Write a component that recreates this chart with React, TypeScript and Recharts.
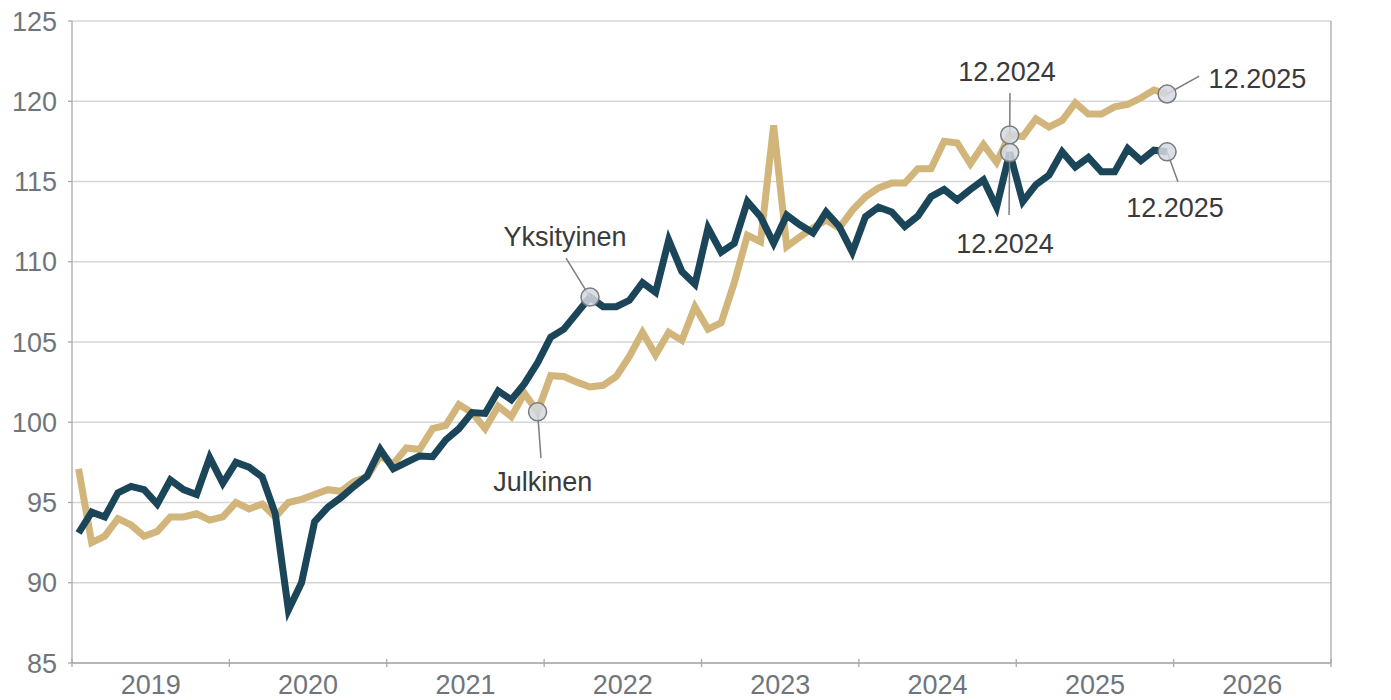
import React from 'react';
import {
  LineChart,
  Line,
  XAxis,
  YAxis,
  CartesianGrid,
  ReferenceDot,
  ReferenceLine,
} from 'recharts';

// monthly index values, 1.2019 - 12.2025
const yksityinen = [
  93.1, 94.4, 94.1, 95.6, 96.0, 95.8, 94.9, 96.4, 95.8, 95.5, 97.8, 96.2,
  97.5, 97.2, 96.6, 94.3, 88.3, 90.0, 93.8, 94.7, 95.3, 96.0, 96.65, 98.3,
  97.1, 97.5, 97.9, 97.85, 98.9, 99.6, 100.6, 100.55, 101.95, 101.4, 102.4, 103.7,
  105.3, 105.8, 106.8, 107.8, 107.2, 107.2, 107.6, 108.7, 108.1, 111.35, 109.4, 108.6,
  112.1, 110.6, 111.15, 113.75, 112.8, 111.15, 112.9, 112.3, 111.8, 113.1, 112.2, 110.6,
  112.8, 113.4, 113.1, 112.2, 112.85, 114.05, 114.5, 113.85, 114.5, 115.1, 113.4, 116.8,
  113.75, 114.8, 115.4, 116.85, 115.9, 116.5, 115.6, 115.6, 117.05, 116.3, 116.95, 116.85,
];

const julkinen = [
  97.1, 92.5, 92.9, 94.0, 93.6, 92.9, 93.2, 94.1, 94.1, 94.3, 93.9, 94.1,
  95.0, 94.6, 94.9, 94.1, 95.0, 95.2, 95.5, 95.8, 95.7, 96.3, 96.6, 97.9,
  97.4, 98.4, 98.3, 99.6, 99.8, 101.1, 100.6, 99.6, 101.0, 100.35, 101.8, 100.65,
  102.9, 102.85, 102.5, 102.2, 102.3, 102.85, 104.1, 105.6, 104.2, 105.6, 105.1, 107.2,
  105.8, 106.2, 108.7, 111.65, 111.25, 118.5, 110.95, 111.55, 112.1, 112.6, 112.1, 113.2,
  114.05, 114.6, 114.9, 114.9, 115.8, 115.8, 117.5, 117.4, 116.1, 117.3, 116.2, 117.9,
  117.8, 118.9, 118.4, 118.8, 119.9, 119.2, 119.2, 119.65, 119.8, 120.2, 120.7, 120.45,
];

const years = ['2019', '2020', '2021', '2022', '2023', '2024', '2025', '2026'];
const yTicks = [85, 90, 95, 100, 105, 110, 115, 120, 125];

// x is months since 1.2019, each point sits in the middle of its month
const data = yksityinen.map((v, i) => ({ t: i + 0.5, yks: v, julk: julkinen[i] }));
const yearStarts = [...years.map((_, i) => i * 12), years.length * 12];

// callouts: marker point, end of leader line, text centre (data units)
const callouts = [
  { text: 'Yksityinen', at: [39.5, yksityinen[39]], end: [37.67, 110.23], label: [37.6, 111.6] },
  { text: 'Julkinen', at: [35.5, julkinen[35]], end: [35.76, 97.77], label: [35.9, 96.34] },
  { text: '12.2024', at: [71.5, julkinen[71]], end: [71.52, 120.51], label: [71.29, 121.88] },
  { text: '12.2024', at: [71.5, yksityinen[71]], end: [71.45, 112.91], label: [71.14, 111.14] },
  { text: '12.2025', at: [83.5, julkinen[83]], end: [85.95, 121.57], label: [90.39, 121.45] },
  { text: '12.2025', at: [83.5, yksityinen[83]], end: [84.33, 114.99], label: [84.1, 113.38] },
];

const W = 1391;
const H = 700;
const LEFT_W = 72;
const RIGHT_W = 60;
const HALF_YEAR = (W - LEFT_W - RIGHT_W) / years.length / 2;

const FONT = '"Liberation Sans", Arial, sans-serif';
const TICK_COLOR = '#6f757c';
const AXIS_COLOR = '#a9a9a9';

// tick mark crossing the axis at each year boundary, year label centred in the year
const YearTick = (props: any) => {
  const { x, y, index } = props;
  return (
    <g>
      <line x1={x} x2={x} y1={y - 4} y2={y + 4} stroke={AXIS_COLOR} strokeWidth={1.3} />
      {index < years.length && (
        <text
          x={x + HALF_YEAR}
          y={y + 31}
          textAnchor="middle"
          fill={TICK_COLOR}
          fontSize={27}
          fontFamily={FONT}
        >
          {years[index]}
        </text>
      )}
    </g>
  );
};

export default function App() {
  const tickStyle = { fill: TICK_COLOR, fontSize: 27, fontFamily: FONT };
  return (
    <div style={{ position: 'absolute', left: 0, top: 0, background: '#fff' }}>
      <LineChart width={W} height={H} data={data} margin={{ top: 21, right: 0, bottom: 0, left: 0 }}>
        <CartesianGrid xAxisId="m" yAxisId="l" vertical={false} stroke="#d6d6d6" strokeWidth={1.3} />
        <XAxis
          xAxisId="m"
          dataKey="t"
          type="number"
          domain={[0, 96]}
          ticks={yearStarts}
          allowDataOverflow
          height={37}
          tickSize={0}
          tickMargin={0}
          tickLine={false}
          tick={<YearTick />}
          interval={0}
          stroke={AXIS_COLOR}
          strokeWidth={1.3}
        />
        <YAxis
          yAxisId="l"
          domain={[85, 125]}
          ticks={yTicks}
          width={LEFT_W}
          tickSize={4}
          tickMargin={11}
          stroke={AXIS_COLOR}
          strokeWidth={1.3}
          tick={tickStyle}
        />
        <YAxis
          yAxisId="r"
          orientation="right"
          domain={[85, 125]}
          ticks={yTicks}
          width={RIGHT_W}
          tickSize={4}
          tickMargin={5}
          stroke={AXIS_COLOR}
          strokeWidth={1.3}
          tick={{ ...tickStyle, textAnchor: 'start' }}
        />
        <Line
          xAxisId="m"
          yAxisId="l"
          dataKey="julk"
          stroke="#d1b57b"
          strokeWidth={7}
          dot={false}
          activeDot={false}
          isAnimationActive={false}
        />
        <Line
          xAxisId="m"
          yAxisId="l"
          dataKey="yks"
          stroke="#1b4558"
          strokeWidth={7}
          dot={false}
          activeDot={false}
          isAnimationActive={false}
        />
        {callouts.map((c, i) => (
          <ReferenceLine
            key={`l${i}`}
            xAxisId="m"
            yAxisId="l"
            segment={[{ x: c.at[0], y: c.at[1] }, { x: c.end[0], y: c.end[1] }]}
            stroke="#7d7d7d"
            strokeWidth={1.5}
            ifOverflow="visible"
          />
        ))}
        {callouts.map((c, i) => (
          <ReferenceDot
            key={`d${i}`}
            xAxisId="m"
            yAxisId="l"
            x={c.at[0]}
            y={c.at[1]}
            r={9}
            fill="#d3d8e0"
            fillOpacity={0.85}
            stroke="#7a7a7a"
            strokeWidth={1.5}
            ifOverflow="visible"
          />
        ))}
        {callouts.map((c, i) => (
          <ReferenceDot
            key={`t${i}`}
            xAxisId="m"
            yAxisId="l"
            x={c.label[0]}
            y={c.label[1]}
            r={0}
            fill="none"
            stroke="none"
            ifOverflow="visible"
            label={{ value: c.text, position: 'center', fill: '#3a3a3a', fontSize: 27, fontFamily: FONT }}
          />
        ))}
      </LineChart>
    </div>
  );
}
